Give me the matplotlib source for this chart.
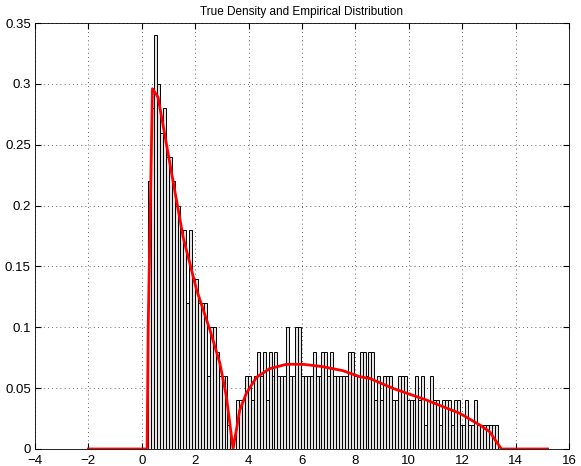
import numpy as np
import matplotlib
matplotlib.use("Agg")
import matplotlib.pyplot as plt

plt.rcParams["font.family"] = ["Liberation Sans", "DejaVu Sans"]

# histogram: left edge of first bin, bin width, normalised heights
bin_start = 0.24
bin_width = 0.11
heights = [
    0.22, 0.28, 0.34, 0.30, 0.26, 0.28, 0.24, 0.24, 0.22, 0.20,
    0.20, 0.18, 0.18, 0.12, 0.18, 0.14, 0.14, 0.12, 0.12, 0.12,
    0.06, 0.10, 0.10, 0.08, 0.06, 0.06, 0.06, 0.02, 0.00, 0.00,
    0.04, 0.04, 0.04, 0.06, 0.06, 0.04, 0.06, 0.08, 0.06, 0.08,
    0.04, 0.08, 0.06, 0.08, 0.06, 0.06, 0.06, 0.10, 0.06, 0.06,
    0.10, 0.10, 0.06, 0.06, 0.06, 0.06, 0.08, 0.06, 0.06, 0.08,
    0.08, 0.06, 0.08, 0.06, 0.06, 0.06, 0.06, 0.06, 0.08, 0.08,
    0.06, 0.06, 0.08, 0.08, 0.06, 0.08, 0.08, 0.04, 0.06, 0.04,
    0.06, 0.06, 0.06, 0.04, 0.04, 0.06, 0.06, 0.06, 0.04, 0.04,
    0.04, 0.06, 0.04, 0.06, 0.02, 0.04, 0.06, 0.04, 0.04, 0.02,
    0.04, 0.04, 0.04, 0.02, 0.04, 0.04, 0.02, 0.02, 0.04, 0.02,
    0.02, 0.04, 0.02, 0.02, 0.02, 0.02, 0.02, 0.02, 0.02,
]

# true density, sampled along x
dens_x = [-2.0, 0.20, 0.24, 0.40, 0.61, 1.05, 1.55, 2.05, 2.55, 2.92,
          3.17, 3.42, 3.67, 3.92, 4.30, 4.79, 5.42, 6.04, 6.79, 7.54,
          8.16, 8.54, 9.41, 10.66, 11.91, 12.66, 13.03, 13.28, 13.47, 15.2]
dens_y = [0.0, 0.0, 0.10, 0.296, 0.289, 0.235, 0.174, 0.131, 0.098, 0.071,
          0.043, 0.0, 0.032, 0.046, 0.059, 0.066, 0.0696, 0.0696, 0.0676, 0.0643,
          0.0594, 0.058, 0.0498, 0.0402, 0.0293, 0.0197, 0.0142, 0.006, 0.0, 0.0]

x_ticks = list(range(-4, 17, 2))
y_ticks = [0, 0.05, 0.1, 0.15, 0.2, 0.25, 0.3, 0.35]
y_labels = ["0", "0.05", "0.1", "0.15", "0.2", "0.25", "0.3", "0.35"]

fig = plt.figure(figsize=(5.81, 4.66), dpi=100)
ax = fig.add_axes([0.0602, 0.0365, 0.9191, 0.9141])

lefts = bin_start + bin_width * np.arange(len(heights))
ax.bar(lefts, heights, width=bin_width, align="edge",
       facecolor="#e4e4e4", edgecolor="black", linewidth=0.7, zorder=2)
ax.plot(dens_x, dens_y, color="red", linewidth=2.0, zorder=3)

ax.set_xlim(-4, 16)
ax.set_ylim(0, 0.35)
ax.set_xticks(x_ticks)
ax.set_xticklabels([str(t).replace("-", "\u2212") for t in x_ticks])
ax.set_yticks(y_ticks)
ax.set_yticklabels(y_labels)
ax.tick_params(direction="in", top=True, right=True, length=4, labelsize=9.5)
ax.tick_params(axis="x", pad=4.5)
ax.tick_params(axis="y", pad=3)
ax.grid(True, linestyle=(0, (1, 4)), color="black", linewidth=0.6, alpha=0.8)
ax.set_axisbelow(True)
for s in ax.spines.values():
    s.set_linewidth(0.6)

ax.set_title("True Density and Empirical Distribution", fontsize=8.5, pad=6)

fig.savefig("out.png", dpi=100)
